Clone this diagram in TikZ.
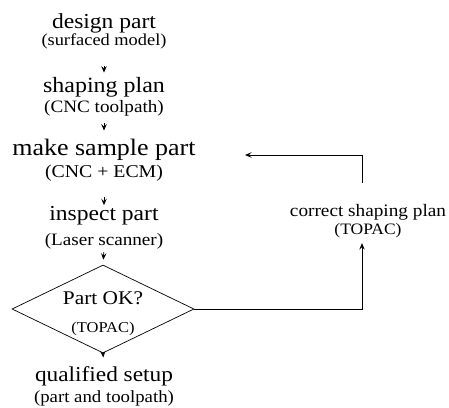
\documentclass[tikz,border=0pt]{standalone}
\usepackage{fontspec}
\setmainfont{Liberation Serif}[FakeStretch=1.1]
\usetikzlibrary{shapes.geometric,arrows.meta}
\newcommand{\fs}[1]{\fontsize{#1}{#1}\selectfont}
\begin{document}
\begin{tikzpicture}[x=1pt,y=-1pt,
  every node/.style={inner sep=0pt,anchor=base},
  stage/.style={font=\fs{21.4}},
  sub/.style={font=\fs{17.4}},
  arr/.style={draw=black,line width=0.8pt,-{Stealth[length=6.5pt,width=5.5pt,inset=2.6pt]}},
  link/.style={draw=black,line width=0.8pt}]
\useasboundingbox (0,0) rectangle (449,407);

% main column
\node[stage,font=\fs{21.4}] (design) at (104,28) {design part};
\node[sub,font=\fs{16.7}] (designsub) at (104,45) {(surfaced model)};
\node[stage,font=\fs{21.8}] (shaping) at (104,92) {shaping plan};
\node[sub] (shapingsub) at (104,112) {(CNC toolpath)};
\node[stage,font=\fs{23.6}] (make) at (104,155) {make sample part};
\node[sub,font=\fs{18}] (makesub) at (104,177) {(CNC + ECM)};
\node[stage] (inspect) at (104,220) {inspect part};
\node[sub] (inspectsub) at (104,245) {(Laser scanner)};

% decision
\node[diamond,draw,line width=0.7pt,anchor=center,
      minimum width=182pt,minimum height=88pt] (dia) at (103,309) {};
\node[font=\fs{19.4}] (ok) at (103,304) {Part OK?};
\node[font=\fs{15}] (oksub) at (103,332) {(TOPAC)};

\node[stage,font=\fs{21.2}] (qual) at (104,381) {qualified setup};
\node[sub,font=\fs{17.1}] (qualsub) at (104,402) {(part and toolpath)};

% correction branch
\node[font=\fs{17.5}] (fix) at (368,216) {correct shaping plan};
\node[font=\fs{15.9}] (fixsub) at (368,234) {(TOPAC)};
\coordinate (backtip) at (245,155);

% connectors
\draw[arr,shorten <=17.4pt,shorten >=4.1pt] (designsub.south) -- (shaping.north);
\draw[arr,shorten <=7.2pt,shorten >=7.9pt] (shapingsub.south) -- (make.north);
\draw[arr,shorten <=16pt,shorten >=0.5pt] (makesub.south) -- (inspect.north);
\draw[arr,shorten <=3.2pt,shorten >=5pt] (inspectsub.south) -- (dia.north);
\draw[arr,shorten <=-1pt,shorten >=8.5pt] (dia.south) -- (qual.north);
\draw[arr,shorten >=5.6pt] (dia.east) -| ([xshift=-6pt]fixsub.south);
\draw[arr,shorten <=21pt] ([xshift=-6pt]fix.north) |- (backtip);
\end{tikzpicture}
\end{document}
